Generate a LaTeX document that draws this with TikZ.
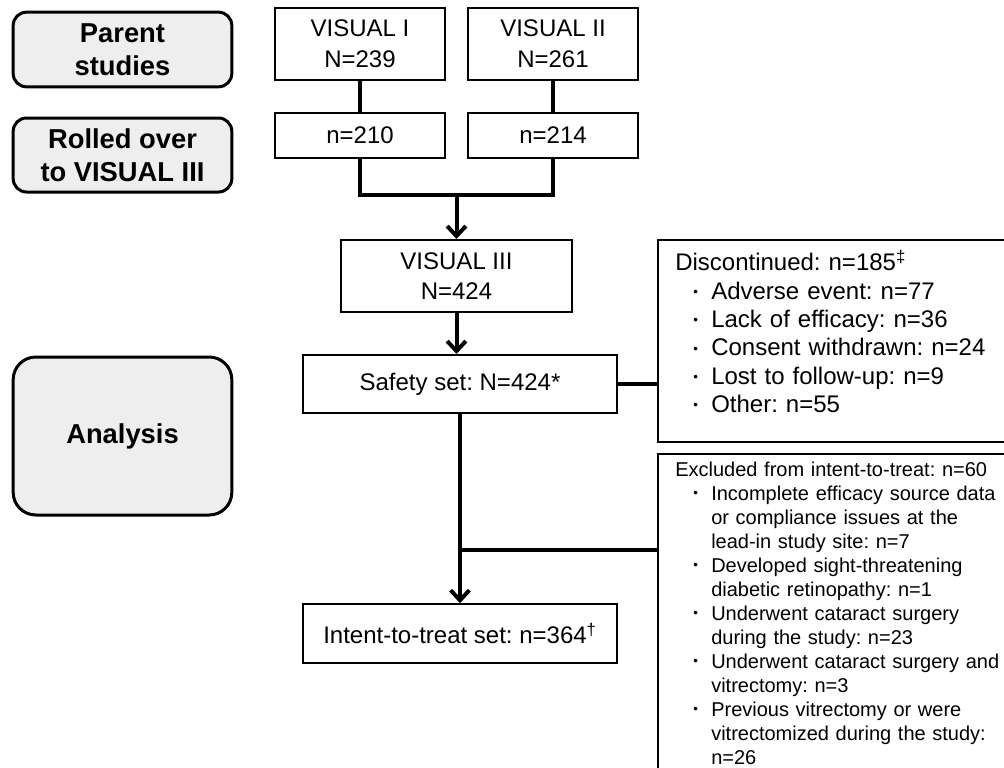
\documentclass[tikz,border=0pt]{standalone}
\usepackage{fontspec}
\setmainfont{Liberation Sans}
\usetikzlibrary{arrows.meta}

\definecolor{stagegray}{HTML}{EEEEEE}

% bullet and continuation indents for the side boxes
\newcommand{\bul}{\hspace*{13.5pt}\makebox[13.5pt][l]{\fontsize{10pt}{10pt}\selectfont\raisebox{0.2em}{•}}}
\newcommand{\cnt}{\hspace*{27pt}}

\begin{document}
\frenchspacing
\begin{tikzpicture}[x=0.75pt, y=-0.75pt,
	stage/.style={draw=black, line width=2.25pt, fill=stagegray, rounded corners=10pt,
		minimum width=164pt, align=center, font=\fontsize{20.5pt}{24.5pt}\selectfont\bfseries},
	box/.style={draw=black, line width=1.5pt, align=center, inner sep=0pt,
		font=\fontsize{18pt}{23pt}\selectfont},
	sidetext/.style={anchor=north west, align=left, inner xsep=12.75pt},
	link/.style={line width=3pt},
	arr/.style={link, -{Straight Barb[length=7.5pt,width=14pt]}}
	]
	
	\useasboundingbox (0,0) rectangle (1004,768);
	\clip (0,0) rectangle (1004,768);
	
	%% STAGES
	% Left column
	\node[stage, minimum height=56pt] (parent) at (122.5,49.5) {Parent\\studies};
	\node[stage, minimum height=55.5pt] (rolled) at (122.5,155) {Rolled over\\to VISUAL III};
	\node[stage, minimum height=118.5pt, rounded corners=17pt] (analysis) at (122.5,436) {Analysis};
	
	%% FLOW
	% Parent studies
	\node[box, minimum width=127.5pt, minimum height=54pt] (visA) at (360,44) {VISUAL I\\N=239};
	\node[box, minimum width=127.5pt, minimum height=54pt] (visB) at (553,44) {VISUAL II\\N=261};
	
	% Roll over
	\node[box, minimum width=127.5pt, minimum height=33.75pt] (rollA) at (360,135.5) {n=210};
	\node[box, minimum width=127.5pt, minimum height=33.75pt] (rollB) at (553,135.5) {n=214};
	
	% Extension study and sets
	\node[box, minimum width=173.25pt, minimum height=54pt] (visC) at (456.5,276) {VISUAL III\\N=424};
	\node[box, minimum width=235.5pt, minimum height=43.5pt] (safety) at (460,384) {Safety set: N=424*};
	\node[box, minimum width=235.5pt, minimum height=44pt] (itt) at (460,633.5) {Intent-to-treat set: n=364\textsuperscript{†}};
	
	%% SIDE BOXES
	% Discontinued
	\draw[line width=1.5pt] (658,240) rectangle (1012,442);
	\node[sidetext, text width=250pt, inner ysep=7.6pt,
		font=\fontsize{18pt}{21.2pt}\selectfont] (disc) at (658,240)
		{Discontinued: n=185\textsuperscript{‡}\\
		\bul Adverse event: n=77\\
		\bul Lack of efficacy: n=36\\
		\bul Consent withdrawn: n=24\\
		\bul Lost to follow-up: n=9\\
		\bul Other: n=55};
	
	% Excluded (runs past the bottom edge)
	\draw[line width=1.5pt] (658,454) rectangle (1012,800);
	\node[sidetext, text width=260pt, inner ysep=5.5pt,
		font=\fontsize{15pt}{18pt}\selectfont] (excl) at (658,454)
		{Excluded from intent-to-treat: n=60\\
		\bul Incomplete efficacy source data\\
		\cnt or compliance issues at the\\
		\cnt lead-in study site: n=7\\
		\bul Developed sight-threatening\\
		\cnt diabetic retinopathy: n=1\\
		\bul Underwent cataract surgery\\
		\cnt during the study: n=23\\
		\bul Underwent cataract surgery and\\
		\cnt vitrectomy: n=3\\
		\bul Previous vitrectomy or were\\
		\cnt vitrectomized during the study:\\
		\cnt n=26};
	
	%% CONNECTORS
	\coordinate (merge) at (456.5,195);
	\coordinate (branch) at (460,550);
	
	\draw[link] (visA) -- (rollA);
	\draw[link] (visB) -- (rollB);
	\draw[link] (rollA) |- (merge) -| (rollB);
	\draw[arr] (merge) -- (visC);
	\draw[arr] (visC.south) -- (visC.south |- safety.north);
	\draw[link] (safety) -- (safety -| disc.west);
	\draw[arr] (safety) -- (itt);
	\draw[link] (branch) -- (branch -| excl.west);
	
\end{tikzpicture}
\end{document}
